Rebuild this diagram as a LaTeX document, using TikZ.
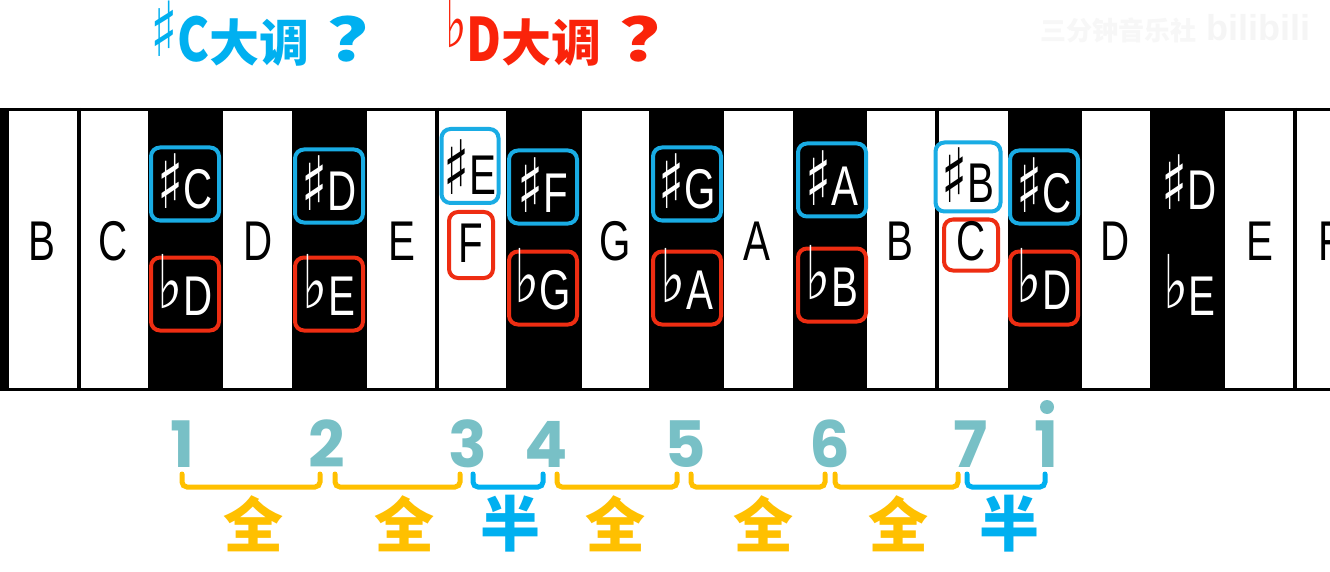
\documentclass[tikz,border=0pt]{standalone}
\usepackage{fontspec}
\setmainfont{Liberation Sans}
\newfontfamily\cjk{Noto Sans CJK SC}
\newfontfamily\dv{DejaVu Sans}
\newfontfamily\digf{Poppins}
\usetikzlibrary{calc}
\definecolor{tblue}{RGB}{0,176,240}
\definecolor{tred}{RGB}{250,35,10}
\definecolor{kblue}{RGB}{25,172,228}
\definecolor{kred}{RGB}{238,45,18}
\definecolor{teal}{RGB}{120,192,198}
\definecolor{gold}{RGB}{255,192,0}
\newcommand\keyfont{\fontsize{56}{60}\selectfont}
\newcommand\nt[1]{\scalebox{0.72}[1]{#1}}
\newcommand\shp{\raisebox{0pt}{\fontsize{75}{75}\selectfont\dv\char"266F}}
\newcommand\flt{\raisebox{7pt}{\fontsize{74}{74}\selectfont\dv\char"266D}}
\newcommand\tshp{\scalebox{0.75}[1]{\raisebox{5pt}{\fontsize{76}{76}\selectfont\dv\char"266F}}}
\newcommand\tflt{\scalebox{0.6}[1]{\raisebox{14pt}{\fontsize{76}{76}\selectfont\dv\char"266D}}}
\newcommand\tq{\hspace{18pt}\scalebox{1.6}[1.2]{？}}
\begin{document}
\begin{tikzpicture}[x=1pt,y=-1pt,
  wk/.style={font=\keyfont, text=black, inner sep=0pt, anchor=base},
  bk/.style={font=\keyfont, text=white, inner sep=0pt, anchor=base},
  nbox/.style={line width=4pt, rounded corners=9pt, inner sep=0pt, font=\keyfont, text depth=0pt,
    minimum width=68pt, minimum height=73pt},
  sbox/.style={nbox, draw=kblue, fill=black, text=white, text height=50pt},
  fbox/.style={nbox, draw=kred, fill=black, text=white, text height=42pt},
  title/.style={inner sep=0pt, anchor=base west, font=\fontsize{50}{50}\selectfont\cjk\bfseries},
  digit/.style={inner sep=0pt, anchor=base, text=teal, font=\fontsize{64}{64}\selectfont\digf\bfseries},
  step lbl/.style={inner sep=0pt, font=\fontsize{60}{60}\selectfont\cjk\bfseries},
  brk/.style={line width=5pt, rounded corners=5pt, line cap=round}
]
\useasboundingbox (0,0) rectangle (1330,572);
\clip (0,0) rectangle (1330,572);
\fill[white] (0,0) rectangle (1330,572);
% watermark
\node[inner sep=0pt, text=black!3, font=\fontsize{26}{26}\selectfont\cjk\bfseries] (wm) at (1118,30) {三分钟音乐社};
\node[inner sep=0pt, text=black!4, font=\fontsize{36}{36}\selectfont\bfseries] (bili) at (1258,28) {bilibili};
% titles
\node[title, text=tblue] (t1) at (150,62) {\tshp\scalebox{0.8}[1]{\fontsize{60}{60}\selectfont C}大调\tq};
\node[title, text=tred] (t2) at (445,62) {\tflt\scalebox{0.8}[1]{\fontsize{60}{60}\selectfont D}大调\tq};
% keyboard
\fill (0,108) rectangle (9,391);
\foreach \a/\b in {148/223,292/367,506/582,649/724,793/867,1008/1082,1150/1225}
  \fill (\a,108) rectangle (\b,391);
\foreach \x in {79,436.5,936.5,1295}
  \draw[line width=4pt] (\x,108) -- (\x,391);
\draw[line width=3pt] (0,109.5) -- (1330,109.5);
\draw[line width=3pt] (0,389.5) -- (1330,389.5);
% white key letters
\node[wk] (kB) at (42,260) {\nt{B}};
\node[wk] (kC) at (113,260) {\nt{C}};
\node[wk] (kD) at (258,260) {\nt{D}};
\node[wk] (kE) at (402,260) {\nt{E}};
\node[wk] (kG) at (615,260) {\nt{G}};
\node[wk] (kA) at (757,260) {\nt{A}};
\node[wk] (kB2) at (900,260) {\nt{B}};
\node[wk] (kD2) at (1115,260) {\nt{D}};
\node[wk] (kE2) at (1260,260) {\nt{E}};
\node[wk] (kF2) at (1331,260) {\nt{F}};
% boxed sharps / flats
\node[sbox] (sC) at (185,184) {\nt{\shp C}};
\node[fbox] (fD) at (185,294) {\nt{\flt D}};
\node[sbox] (sD) at (329,186) {\nt{\shp D}};
\node[fbox] (fE) at (329,294) {\nt{\flt E}};
\node[nbox, draw=kblue, fill=white, text=black, minimum width=57pt, minimum height=74pt, text height=58pt] (sE) at (470,166) {\nt{\shp E}};
\node[nbox, draw=kred, fill=white, text=black, minimum width=44pt, minimum height=66pt, text height=34pt] (nF) at (471,245) {\nt{F}};
\node[sbox] (sF) at (543,187) {\nt{\shp F}};
\node[fbox] (fG) at (543,288) {\nt{\flt G}};
\node[sbox] (sG) at (687,184) {\nt{\shp G}};
\node[fbox] (fA) at (687,288) {\nt{\flt A}};
\node[sbox] (sA) at (832,180) {\nt{\shp A}};
\node[fbox] (fB) at (832,285) {\nt{\flt B}};
\node[nbox, draw=kblue, fill=white, text=black, minimum width=65pt, minimum height=69pt, text height=52pt] (sB) at (968,177) {\nt{\shp B}};
\node[nbox, draw=kred, fill=white, text=black, minimum width=54pt, minimum height=51pt, text height=30pt] (nC) at (971,245) {\nt{C}};
\node[sbox] (sC2) at (1044,187) {\nt{\shp C}};
\node[fbox] (fD2) at (1044,288) {\nt{\flt D}};
\node[bk] (sD2) at (1189,210) {\nt{\shp D}};
\node[bk] (fE2) at (1189,315) {\nt{\flt E}};
% scale degrees
\node[digit] (d1) at (183,467) {1};
\node[digit] (d2) at (327,467) {2};
\node[digit] (d3) at (468,467) {3};
\node[digit] (d4) at (546,467) {4};
\node[digit] (d5) at (685,467) {5};
\node[digit] (d6) at (830,467) {6};
\node[digit] (d7) at (971,467) {7};
\node[digit] (d8) at (1047,467) {1};
\fill[teal] (1047,407) circle (7);
% brackets
\newcommand\brk[5]{\draw[brk, draw=#1] ($(#2.base)+(#3,7)$) -- ++(0,13) -| ($(#4.base)+(#5,7)$);}
\brk{gold}{d1}{-1}{d2}{-7}
\brk{gold}{d2}{8}{d3}{-8}
\brk{tblue}{d3}{5}{d4}{-3}
\brk{gold}{d4}{11}{d5}{-8}
\brk{gold}{d5}{6}{d6}{-5}
\brk{gold}{d6}{5}{d7}{-13}
\brk{tblue}{d7}{-4}{d8}{-2}
% step labels
\node[step lbl, text=gold] (w1) at (253,524) {全};
\node[step lbl, text=gold] (w2) at (404,524) {全};
\node[step lbl, text=tblue] (h1) at (510,524) {半};
\node[step lbl, text=gold] (w3) at (615,524) {全};
\node[step lbl, text=gold] (w4) at (763,524) {全};
\node[step lbl, text=gold] (w5) at (898,524) {全};
\node[step lbl, text=tblue] (h2) at (1009,524) {半};
\end{tikzpicture}
\end{document}
